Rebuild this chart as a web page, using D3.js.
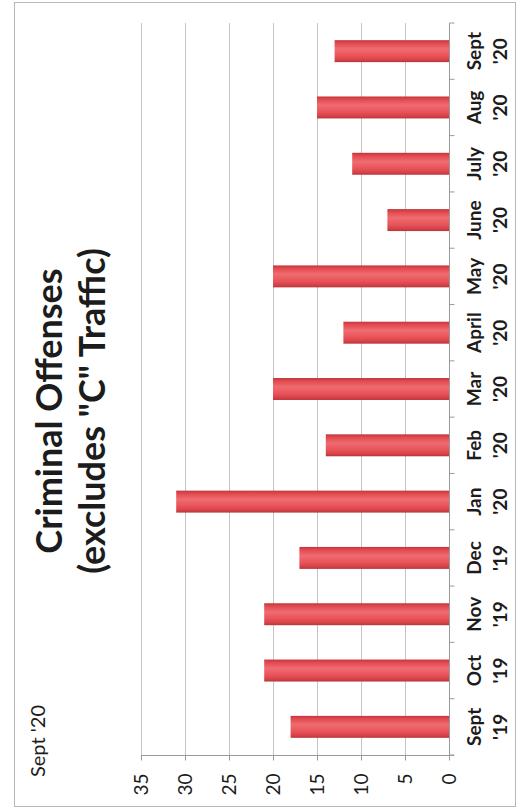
<!DOCTYPE html>
<html>
<head>
<meta charset="utf-8">
<script src="https://cdn.jsdelivr.net/npm/d3@7"></script>
<style>
  html, body { margin: 0; padding: 0; background: #fff; }
  svg { display: block; }
  text { font-family: Lato, "Open Sans", "Noto Sans", sans-serif; fill: #1c1c1c; }
</style>
</head>
<body>
<svg id="chart" width="518" height="812"></svg>
<script>
// Monthly criminal offense counts (excluding "C" traffic), Sept '19 – Sept '20
const categories = ["Sept '19", "Oct '19", "Nov '19", "Dec '19", "Jan '20", "Feb '20", "Mar '20",
                    "April '20", "May '20", "June '20", "July '20", "Aug '20", "Sept '20"];
const offenses = [18, 21, 21, 17, 31, 14, 20, 12, 20, 7, 11, 15, 13];
const valueTicks = [0, 5, 10, 15, 20, 25, 30, 35];
const titleLines = ["Criminal Offenses", "(excludes \"C\" Traffic)"];
const periodLabel = "Sept '20";

const svg = d3.select("#chart");

// Page is laid out sideways: value axis runs right-to-left along the bottom,
// months run bottom-to-top along the right edge.
svg.append("rect")
  .attr("x", 14.5).attr("y", 2.5)
  .attr("width", 501).attr("height", 804)
  .attr("fill", "#fff").attr("stroke", "#b8b8b8").attr("stroke-width", 1);

const plot = { left: 141, right: 449, top: 23, bottom: 755 };

const x = d3.scaleLinear().domain([0, 35]).range([plot.right, plot.left]);
const y = d3.scaleBand()
  .domain(categories.slice().reverse())
  .range([plot.top, plot.bottom])
  .paddingInner(0.61)
  .paddingOuter(0.305);

// Bar shading: darker rims with a lighter core
const defs = svg.append("defs");
const grad = defs.append("linearGradient")
  .attr("id", "barFill").attr("x1", 0).attr("y1", 0).attr("x2", 0).attr("y2", 1);
[["0%", "#c2363b"], ["14%", "#e24a50"], ["40%", "#ef6c71"], ["70%", "#e85459"], ["88%", "#d8434a"], ["100%", "#b9343a"]]
  .forEach(([o, c]) => grad.append("stop").attr("offset", o).attr("stop-color", c));

// Gridlines
svg.append("g")
  .selectAll("line")
  .data(valueTicks.filter(v => v > 0))
  .join("line")
  .attr("x1", d => x(d) + 0.5).attr("x2", d => x(d) + 0.5)
  .attr("y1", plot.top).attr("y2", plot.bottom)
  .attr("stroke", "#c4c4c4").attr("stroke-width", 1);

// Bars
svg.append("g")
  .selectAll("rect")
  .data(categories.map((c, i) => ({ c, v: offenses[i] })))
  .join("rect")
  .attr("x", d => x(d.v))
  .attr("y", d => y(d.c))
  .attr("width", d => x(0) - x(d.v))
  .attr("height", y.bandwidth())
  .attr("fill", "url(#barFill)");

// Value axis (bottom), labels turned to read upward
const valueAxis = svg.append("g")
  .attr("transform", `translate(0,${plot.bottom + 0.5})`)
  .call(d3.axisBottom(x).tickValues(valueTicks).tickSize(5).tickSizeOuter(0));
valueAxis.select(".domain").attr("stroke", "#9a9a9a")
  .attr("d", `M${plot.left},0H${plot.right + 5}`);
valueAxis.selectAll(".tick line").attr("stroke", "#9a9a9a");
valueAxis.selectAll(".tick text")
  .attr("x", 0).attr("y", 0).attr("dy", "0.36em")
  .attr("text-anchor", "end")
  .attr("transform", "translate(0,18) rotate(-90)")
  .style("font-size", "19px")
  .style("fill", "#1c1c1c");

// Category axis (right)
const catAxis = svg.append("g")
  .attr("transform", `translate(${plot.right + 0.5},0)`)
  .call(d3.axisRight(y).tickSize(0).tickSizeOuter(0));
catAxis.select(".domain").attr("stroke", "#9a9a9a")
  .attr("d", `M0,${plot.top}V${plot.bottom + 5}`);

// Tick marks at category boundaries
const step = y.step();
catAxis.append("g")
  .selectAll("line")
  .data(d3.range(categories.length + 1))
  .join("line")
  .attr("x1", 0).attr("x2", 5)
  .attr("y1", i => plot.top + i * step).attr("y2", i => plot.top + i * step)
  .attr("stroke", "#9a9a9a");

catAxis.selectAll(".tick text").each(function(d) {
  const [mon, yr] = d.split(" ");
  const t = d3.select(this)
    .attr("x", 0).attr("y", 0).attr("dy", null)
    .attr("text-anchor", "middle")
    .attr("transform", "translate(31,0) rotate(-90)")
    .style("font-size", "19px").style("font-weight", "bold")
    .style("fill", "#1c1c1c")
    .text(null);
  t.append("tspan").attr("x", 0).attr("y", 0).text(mon);
  t.append("tspan").attr("x", 0).attr("y", 26).text(yr);
});

// Title
const titleBaselines = [62, 105];
svg.append("g")
  .selectAll("text")
  .data(titleLines)
  .join("text")
  .attr("transform", (d, i) => `translate(${titleBaselines[i]},411) rotate(-90)`)
  .attr("text-anchor", "middle")
  .style("font-size", "36px").style("font-weight", "bold")
  .text(d => d);

// Reporting period
svg.append("text")
  .attr("transform", "translate(45,777) rotate(-90)")
  .attr("text-anchor", "start")
  .style("font-size", "20px")
  .text(periodLabel);
</script>
</body>
</html>
